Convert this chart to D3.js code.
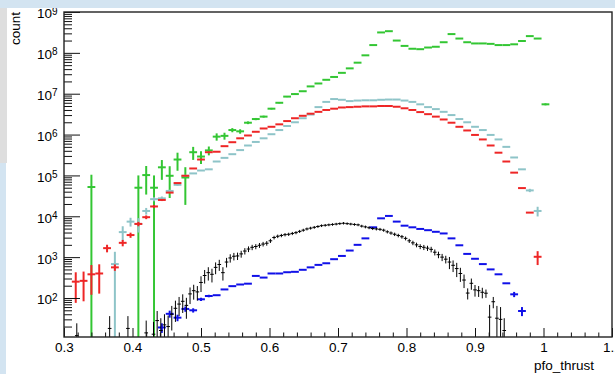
<!DOCTYPE html>
<html>
<head>
<meta charset="utf-8">
<script src="https://cdn.jsdelivr.net/npm/d3@7"></script>
<style>
  body { margin: 0; background: #fff; }
  svg text { font-family: "Liberation Sans", Arial, Helvetica, sans-serif; fill: #000; }
</style>
</head>
<body>
<svg id="chart" width="615" height="374"></svg>
<script>
// histogram range: coarse series have 70 bins, black one 150 bins
var xMin = 0.3, xMax = 1.1;

var xTickValues = [0.3, 0.4, 0.5, 0.6, 0.7, 0.8, 0.9, 1.0, 1.1];
var xTickLabels = ["0.3", "0.4", "0.5", "0.6", "0.7", "0.8", "0.9", "1", "1.1"];
var yTickValues = [1e2, 1e3, 1e4, 1e5, 1e6, 1e7, 1e8, 1e9];
var yTickExps   = ["2", "3", "4", "5", "6", "7", "8", "9"];

var greenVal = [
  null, null, null, 5.2e4, null, null, null, null, null, 5.0e4,
  1.02e5, 5.0e4, 1.58e5, 9.8e4, 2.45e5, 8.9e4, 3.7e5, 2.9e5, 4.1e5, 8.9e5,
  9.3e5, 1.29e6, 1.2e6, 1.95e6, 2.4e6, 2.75e6, 4.3e6, 6.0e6, 8.5e6, 9.8e6,
  1.15e7, 1.51e7, 1.78e7, 2.19e7, 2.57e7, 3.24e7, 4.17e7, 5.75e7, 8.7e7, 1.55e8,
  3.16e8, 3.39e8, 2.0e8, 1.48e8, 1.26e8, 1.23e8, 1.35e8, 1.41e8, 1.82e8, 2.88e8,
  2.24e8, 1.82e8, 1.7e8, 1.7e8, 1.66e8, 1.55e8, 1.55e8, 1.62e8, 1.95e8, 2.57e8,
  2.24e8, 5.5e6, null, null, null, null, null, null, null, null
];
var greenErr = [
  0, 0, 0, 5.2e4, 0, 0, 0, 0, 0, 5.0e4,
  6.8e4, 5.0e4, 8.0e4, 7.0e4, 1.15e5, 7.0e4, 1.3e5, 1.0e5, 1.0e5, 1.8e5,
  1.8e5, 1.5e5, 1.5e5, 1.5e5, 1.5e5, 1.5e5, 2e5, 2e5, 2.5e5, 3e5,
  0, 0, 0, 0, 0, 0, 0, 0, 0, 0,
  0, 0, 0, 0, 0, 0, 0, 0, 0, 0,
  0, 0, 0, 0, 0, 0, 0, 0, 0, 0,
  0, 3e5, 0, 0, 0, 0, 0, 0, 0, 0
];

var cyanVal = [
  null, null, null, null, null, null, 676, 4.1e3, 7.4e3, 6.5e3,
  1.35e4, 2.63e4, 2.75e4, 4.17e4, 5.9e4, 9.8e4, 1.12e5, 1.32e5, 1.41e5, 2.19e5,
  2.69e5, 3.31e5, 4.17e5, 5.4e5, 6.6e5, 8.1e5, 1.02e6, 1.29e6, 1.62e6, 2.0e6,
  2.51e6, 3.09e6, 4.7e6, 6.3e6, 7.4e6, 7.1e6, 6.6e6, 6.8e6, 6.9e6, 6.9e6,
  7.1e6, 7.2e6, 7.2e6, 6.8e6, 6.3e6, 5.5e6, 4.7e6, 4.2e6, 3.6e6, 3.0e6,
  2.4e6, 2.0e6, 1.55e6, 1.29e6, 9.8e5, 7.6e5, 5.0e5, 2.75e5, 1.41e5, 4.3e4,
  1.35e4, null, null, null, null, null, null, null, null, null
];
var cyanErr = [
  0, 0, 0, 0, 0, 0, 676, 1.6e3, 1.8e3, 2.5e3,
  2.5e3, 3e3, 3e3, 3e3, 3e3, 0, 0, 0, 0, 0,
  0, 0, 0, 0, 0, 0, 0, 0, 0, 0,
  0, 0, 0, 0, 0, 0, 0, 0, 0, 0,
  0, 0, 0, 0, 0, 0, 0, 0, 0, 0,
  0, 0, 0, 0, 0, 0, 0, 0, 0, 4e3,
  3.6e3, 0, 0, 0, 0, 0, 0, 0, 0, 0
];

var redVal = [
  null, 251, 263, 380, 398, 1.66e3, 562, 2.24e3, 3.47e3, 6.5e3,
  9.5e3, 1.74e4, 2.51e4, 3.8e4, 6.5e4, 9.8e4, 1.48e5, 2.45e5, 3.7e5, 3.8e5,
  5.2e5, 6.5e5, 8.1e5, 9.5e5, 1.17e6, 1.41e6, 1.55e6, 1.78e6, 2.14e6, 2.51e6,
  2.88e6, 3.24e6, 3.6e6, 4.0e6, 4.3e6, 4.6e6, 4.7e6, 4.8e6, 4.9e6, 4.9e6,
  5.0e6, 5.0e6, 4.8e6, 4.4e6, 4.0e6, 3.55e6, 3.16e6, 2.75e6, 2.34e6, 1.95e6,
  1.55e6, 1.26e6, 9.8e5, 7.6e5, 5.4e5, 3.6e5, 2.19e5, 1.17e5, 4.9e4, 1.23e4,
  1.02e3, null, null, null, null, null, null, null, null, null
];
var redErr = [
  0, 175, 180, 260, 270, 350, 100, 400, 500, 800,
  1000, 1500, 1500, 0, 0, 0, 0, 0, 0, 0,
  0, 0, 0, 0, 0, 0, 0, 0, 0, 0,
  0, 0, 0, 0, 0, 0, 0, 0, 0, 0,
  0, 0, 0, 0, 0, 0, 0, 0, 0, 0,
  0, 0, 0, 0, 0, 0, 0, 0, 0, 0,
  380, 0, 0, 0, 0, 0, 0, 0, 0, 0
];

var blueVal = [
  null, null, null, null, null, null, null, null, null, null,
  null, null, 19, 41, 33, 54, 50, 93, 112, 117,
  162, 195, 214, 224, 347, 316, 398, 398, 427, 437,
  490, 562, 646, 708, 891, 1070, 1450, 2000, 2880, 5370,
  8910, 1.02e4, 7410, 5890, 5370, 4900, 4570, 4170, 3800, 2880,
  1950, 1200, 912, 676, 501, 380, 229, 123, 48, null,
  null, null, null, null, null, null, null, null, null, null
];
var blueErr = [
  0, 0, 0, 0, 0, 0, 0, 0, 0, 0,
  0, 0, 5, 8, 6, 8, 6, 8, 8, 0,
  0, 0, 0, 0, 0, 0, 0, 0, 0, 0,
  0, 0, 0, 0, 0, 0, 0, 0, 0, 0,
  0, 0, 0, 0, 0, 0, 0, 0, 0, 0,
  0, 0, 0, 0, 0, 0, 0, 18, 12, 0,
  0, 0, 0, 0, 0, 0, 0, 0, 0, 0
];

var blackVal = [
  null, null, null, 12, null, null, null, null, null, null,
  null, null, 18, null, null, null, null, 18, null, null,
  null, null, 14, null, 13, 28, 16, 22, 20, 40,
  56, 71, 83, 66, 126, 151, 141, 240, 355, 417,
  380, 562, 661, 417, 759, 955, 1050, 1070, 1200, 1410,
  1580, 1740, 1820, 1950, 2090, 2190, 2510, 3020, 3240, 3390,
  3550, 3630, 3800, 3980, 4270, 4570, 4900, 5130, 5370, 5620,
  5890, 6030, 6170, 6310, 6460, 6610, 6760, 6610, 6460, 6310,
  6170, 5750, 5500, 5250, 5010, 4900, 4790, 4570, 4170, 3890,
  3630, 3390, 3160, 2880, 2510, 2240, 2000, 1820, 1740, 1660,
  1550, 1320, 1150, 1000, 891, 759, 631, 525, 398, 275,
  132, 229, 158, 151, 138, 131, 34, 81, 32, 30,
  16, null, null, null, null, null, null, null, null, null,
  null, null, null, null, null, null, null, null, null, null,
  null, null, null, null, null, null, null, null, null, null
];
var blackErr = [
  0, 0, 0, 12, 0, 0, 0, 0, 0, 0,
  0, 0, 18, 0, 0, 0, 0, 18, 0, 0,
  0, 0, 14, 0, 13, 20, 16, 18, 17, 24,
  30, 35, 40, 35, 55, 60, 55, 100, 130, 150,
  140, 180, 200, 150, 200, 220, 220, 220, 230, 250,
  250, 260, 260, 270, 270, 280, 290, 310, 320, 320,
  330, 330, 340, 350, 370, 380, 400, 410, 420, 430,
  440, 450, 450, 460, 460, 470, 470, 470, 460, 460,
  450, 440, 430, 420, 410, 400, 400, 390, 370, 360,
  350, 340, 330, 310, 290, 280, 260, 250, 250, 240,
  240, 220, 210, 200, 190, 250, 200, 200, 150, 100,
  40, 70, 50, 45, 40, 30, 34, 25, 32, 30,
  16, 0, 0, 0, 0, 0, 0, 0, 0, 0,
  0, 0, 0, 0, 0, 0, 0, 0, 0, 0,
  0, 0, 0, 0, 0, 0, 0, 0, 0, 0
];

var W = 615, H = 374;
var frame = {left: 64, right: 612, top: 12, bottom: 337};

var svg = d3.select("#chart");

var x = d3.scaleLinear().domain([xMin, xMax]).range([frame.left, frame.right]);
var y = d3.scaleLog().domain([11.1, 1e9]).range([frame.bottom, frame.top]);

// canvas decoration
svg.append("rect").attr("width", W).attr("height", H).attr("fill", "#fff");
svg.append("rect").attr("x", 0).attr("y", 8).attr("width", 7).attr("height", 155).attr("fill", "#dedede");
svg.append("rect").attr("x", 0).attr("y", 163).attr("width", 6).attr("height", H - 163).attr("fill", "#d3e4f1");

svg.append("clipPath").attr("id", "frameClip")
  .append("rect")
  .attr("x", frame.left).attr("y", frame.top)
  .attr("width", frame.right - frame.left)
  .attr("height", frame.bottom - frame.top);

var plot = svg.append("g").attr("clip-path", "url(#frameClip)");

function drawHist(vals, errs, color, lw) {
  var bw = (xMax - xMin) / vals.length;
  var bins = vals.map(function(v, i) {
    return {v: v, e: errs[i] || 0, x0: xMin + i * bw, x1: xMin + (i + 1) * bw};
  }).filter(function(d) { return d.v != null; });

  var g = plot.append("g")
    .attr("stroke", color)
    .attr("stroke-width", lw)
    .attr("fill", "none");

  g.selectAll(".hbar")
    .data(bins)
    .enter()
    .append("line")
    .attr("class", "hbar")
    .attr("x1", function(d) { return x(d.x0); })
    .attr("x2", function(d) { return x(d.x1); })
    .attr("y1", function(d) { return y(d.v); })
    .attr("y2", function(d) { return y(d.v); });

  g.selectAll(".vbar")
    .data(bins.filter(function(d) { return d.e > 0; }))
    .enter()
    .append("line")
    .attr("class", "vbar")
    .attr("x1", function(d) { return x((d.x0 + d.x1) / 2); })
    .attr("x2", function(d) { return x((d.x0 + d.x1) / 2); })
    .attr("y1", function(d) { return y(d.v + d.e); })
    .attr("y2", function(d) {
      var lo = d.v - d.e;
      return lo > y.domain()[0] ? y(lo) : frame.bottom + 2;
    });
}

drawHist(greenVal, greenErr, "#33c633", 2);
drawHist(cyanVal, cyanErr, "#8ec4c8", 2);
drawHist(redVal, redErr, "#ee2626", 2);
drawHist(blueVal, blueErr, "#1010e8", 2);
drawHist(blackVal, blackErr, "#000", 1);

// axes
var xMinor = x.ticks(40).filter(function(d) {
  return Math.abs(Math.round(d * 10) - d * 10) > 1e-6;
});
var yMinor = y.ticks().filter(function(d) {
  var l = Math.log10(d);
  return Math.abs(l - Math.round(l)) > 1e-6;
});

var axisStyle = function(g) {
  g.select(".domain").remove();
  g.selectAll("line").attr("stroke", "#111").attr("stroke-width", 1);
};

svg.append("g")
  .attr("transform", "translate(0," + frame.bottom + ")")
  .call(d3.axisBottom(x).tickValues(xMinor).tickSize(-4.5).tickFormat(""))
  .call(axisStyle);

svg.append("g")
  .attr("transform", "translate(0," + frame.bottom + ")")
  .call(d3.axisBottom(x).tickValues(xTickValues).tickSize(-9).tickPadding(5.5)
    .tickFormat(function(d, i) { return xTickLabels[i]; }))
  .call(axisStyle)
  .call(function(g) {
    g.selectAll("text")
      .attr("font-size", "13.5px")
      .attr("font-family", "Liberation Sans, Arial, sans-serif")
      .attr("fill", "#000");
  });

svg.append("g")
  .attr("transform", "translate(" + frame.left + ",0)")
  .call(d3.axisLeft(y).tickValues(yMinor).tickSize(-8).tickFormat(""))
  .call(axisStyle);

svg.append("g")
  .attr("transform", "translate(" + frame.left + ",0)")
  .call(d3.axisLeft(y).tickValues(yTickValues).tickSize(-16).tickFormat(""))
  .call(axisStyle);

var yLabels = svg.append("g").selectAll("text")
  .data(yTickValues)
  .enter()
  .append("text")
  .attr("x", 57.5)
  .attr("y", function(d) { return y(d) + 6.4; })
  .attr("text-anchor", "end")
  .attr("font-size", "13.5px");
yLabels.append("tspan").text("10");
yLabels.append("tspan")
  .attr("font-size", "10px")
  .attr("dy", "-3.8")
  .text(function(d, i) { return yTickExps[i]; });

// frame
svg.append("rect")
  .attr("x", frame.left).attr("y", frame.top)
  .attr("width", frame.right - frame.left)
  .attr("height", frame.bottom - frame.top)
  .attr("fill", "none")
  .attr("stroke", "#222")
  .attr("stroke-width", 1.4);

// titles
svg.append("text")
  .attr("transform", "translate(19.5,12) rotate(-90)")
  .attr("text-anchor", "end")
  .attr("font-size", "13.5px")
  .text("count");

svg.append("text")
  .attr("x", 594)
  .attr("y", 369.5)
  .attr("text-anchor", "end")
  .attr("font-size", "13.5px")
  .text("pfo_thrust");

// top band of the window
svg.append("rect").attr("x", 0).attr("y", 0).attr("width", W).attr("height", 8).attr("fill", "#d3e4f1");
</script>
</body>
</html>
